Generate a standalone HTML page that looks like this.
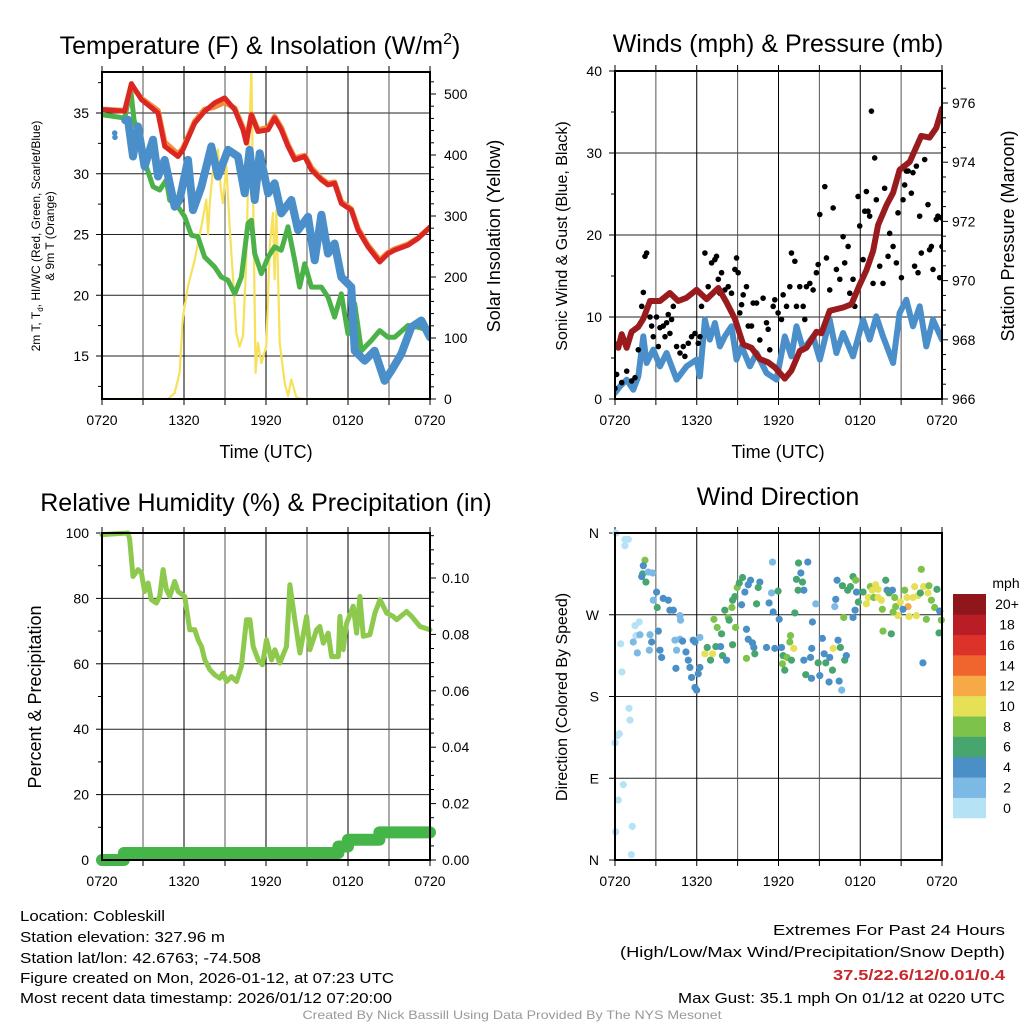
<!DOCTYPE html>
<html><head><meta charset="utf-8"><style>
html,body{margin:0;padding:0;background:#fff;}
svg{display:block;font-family:"Liberation Sans",sans-serif;}
</style></head><body>
<svg id="chart" width="1024" height="1024" viewBox="0 0 1024 1024" xmlns="http://www.w3.org/2000/svg">
<rect x="0" y="0" width="1024" height="1024" fill="#fff"/>
</svg>
<script>
// ---------- Panel 1 data (hours since 0720 UTC) ----------
const redT=[0,1.66,2.15,2.88,4.1,4.59,5.56,5.93,6.78,7.51,8.24,8.98,9.71,10.32,10.56,10.93,11.41,12.15,12.63,13.12,13.61,14.1,14.83,15.32,16.05,16.54,17.02,17.51,18.24,18.73,19.46,20.32,20.93,21.41,22.39,23.12,24];
const redV=[35.28,35.14,37.42,36.1,35,32.25,31.42,31.97,34.17,35.14,35.83,36.24,35.28,33.62,32.52,34.86,33.48,33.62,34.59,33.62,32.25,31.14,31.42,30.32,29.49,29.08,29.21,27.56,27.01,25.36,23.98,22.74,23.43,23.71,24.12,24.67,25.6];
const orangeV=[35.3,35.2,37.3,36.2,35.2,32.6,31.6,32.1,34.3,35.3,35.5,35.9,35.4,33.8,32.7,34.9,33.6,33.8,34.7,33.8,32.4,31.3,31.5,30.5,29.6,29.2,29.3,27.7,27.1,25.5,24.1,22.9,23.5,23.8,24.2,24.7,25.6];
const greenT=[0,1.66,2.1,2.34,2.63,3.24,3.73,4.22,4.71,4.95,5.56,6.05,6.54,7.02,7.51,8.24,8.73,9.22,9.71,10.2,10.68,10.93,11.17,11.66,12.15,12.63,13.12,13.61,14.1,14.46,14.83,15.32,16.05,16.54,17.02,17.51,18.0,18.49,18.98,19.7,20.32,20.93,21.41,22.39,23.12,24];
const greenV=[34.86,34.59,36.93,34.45,33.07,30.59,28.94,28.66,29.49,27.84,27.29,26.46,24.94,24.81,23.15,22.33,21.5,21.23,20.12,21.5,25.91,26.18,23.43,21.78,23.15,23.98,23.71,25.63,22.88,20.67,22.6,20.67,20.67,19.85,18.2,20.12,16.82,19.3,15.44,16.27,17.09,16.54,16.54,17.51,17.37,17.09];
const blueT=[1.7,1.9,2.27,2.63,3.12,3.73,4.1,4.59,5.32,5.68,6.29,6.66,7.27,8.0,8.49,9.22,9.95,10.44,10.8,11.17,11.54,12.15,12.63,13.12,13.85,14.34,15.07,15.56,16.05,16.54,17.02,17.51,18.24,18.49,19.22,19.95,20.68,21.17,21.9,22.63,23.37,24];
const blueV=[34.4,34.45,31.42,33.9,30.59,32.8,29.77,31.14,27.29,27.84,31.14,27.01,28.94,32.25,29.77,31.97,31.42,28.39,31.97,27.84,31.69,28.39,29.21,26.74,27.84,25.36,26.46,22.88,26.63,23.43,24.26,21.5,20.67,15.44,14.61,15.44,12.96,13.79,15.17,17.37,17.92,16.54];
const blueDotT=[0.93,0.95];
const blueDotV=[33.35,33.0];
const solarT=[0,4.83,5.32,5.68,5.93,6.29,6.78,7.27,7.63,7.76,7.88,8.12,8.49,8.68,8.85,9.1,9.34,9.66,9.83,10.07,10.32,10.56,10.73,10.93,11.12,11.24,11.41,11.66,12.02,12.27,12.51,12.63,12.76,13.0,13.37,13.61,13.85,14.22,14.59,24];
const solarV=[0,0,10,43,135,185,228,283,327,270,320,376,409,348,321,381,283,174,108,86,103,228,392,545,228,43,92,59,86,250,305,196,310,92,26,5,32,3,0,0];
// ---------- Panel 2 data ----------
const presT=[0,0.24,0.49,0.86,1.22,1.71,2.08,2.57,3.3,4.03,4.64,5.25,5.99,6.72,7.58,8.19,8.8,9.41,10.02,10.63,11.24,11.73,12.46,12.95,13.56,14.05,14.78,15.15,15.76,16.74,17.35,17.96,18.45,18.94,19.31,19.92,20.41,20.89,21.63,22.48,23.09,23.58,24];
const presV=[967.86,967.73,968.19,967.73,968.27,968.44,968.71,969.31,969.31,969.58,969.31,969.42,969.69,969.37,969.75,969.26,968.71,967.84,967.73,967.35,967.24,967.07,966.69,966.96,967.62,967.73,968.27,968.22,968.98,969.09,969.2,969.86,970.35,971.0,971.88,972.54,972.97,973.74,974.01,974.89,974.83,975.16,975.81];
const windT=[0,0.37,0.86,1.34,1.71,2.08,2.32,2.81,3.3,3.79,4.52,5.25,5.99,6.23,6.6,6.96,7.33,7.7,8.06,8.55,8.92,9.29,9.9,10.39,11.12,11.85,12.46,12.95,13.32,13.81,14.54,15.03,15.76,16.25,16.74,17.47,18.21,18.69,19.18,19.67,20.41,20.89,21.38,21.87,22.36,22.85,23.34,24];
const windV=[0.73,1.54,2.36,1.14,2.76,7.64,4.39,6.02,3.98,5.61,2.36,3.98,4.8,2.76,9.67,7.24,9.27,6.42,7.64,8.86,4.8,6.42,3.98,5.61,3.17,2.36,7.64,5.2,8.86,6.02,7.64,4.8,9.67,5.61,8.05,5.2,9.67,7.24,10.08,7.64,4.39,10.49,12.11,8.86,11.3,6.42,9.67,7.24];
const gustT=[0,0.12,0.49,0.86,1.22,1.47,1.71,1.96,2.08,2.2,2.32,2.57,2.69,2.81,3.05,3.18,3.3,3.54,3.67,3.79,3.91,4.03,4.15,4.28,4.52,4.77,5.01,5.13,5.38,5.62,5.87,6.11,6.23,6.35,6.6,6.84,7.09,7.33,7.45,7.58,7.7,7.82,8.06,8.31,8.55,8.8,8.92,9.04,9.16,9.29,9.41,9.65,9.78,10.02,10.14,10.39,10.63,10.87,11.12,11.24,11.36,11.61,11.73,11.97,12.22,12.34,12.59,12.83,12.95,13.2,13.32,13.56,13.81,13.93,14.05,14.3,14.54,14.78,14.91,15.03,15.4,15.52,15.76,16.01,16.25,16.5,16.74,16.86,17.11,17.23,17.47,17.6,17.84,17.96,18.21,18.33,18.45,18.57,18.69,18.82,18.94,19.06,19.18,19.43,19.67,19.79,20.04,20.16,20.41,20.65,20.77,21.02,21.14,21.26,21.38,21.51,21.75,21.87,21.99,22.12,22.24,22.36,22.48,22.73,22.97,23.09,23.22,23.34,23.58,23.7,23.83,24,23.95];
const gustV=[1.3,3,2,3.4,2.2,2.6,6,11.3,13,17.4,17.8,10,8.9,7.6,10,6.4,8.7,8.9,7.6,9.3,10.3,8,9.7,11.3,6.4,5.6,6.4,5.2,6.8,7.6,8,6.8,7.6,11.3,17.8,13.7,16.6,17,17.4,14.6,12.9,15.4,13.3,13.7,12.9,15.8,17.2,15.4,10.5,11.5,12.7,13.7,8.9,8.9,11.7,11.7,7.2,12.3,9.3,8.5,6,11.3,12.1,10.5,9.7,12.7,11.3,13.7,17.8,16.8,11.3,13.7,11.3,9.7,13.7,14.1,13.3,15.4,16.4,22.5,25.9,17.2,13.3,23.3,15.8,14.6,19.8,16.6,18.6,12.9,14.6,11.3,24.7,21.1,17,22.9,25.3,22.9,22.3,35.1,14.1,29.4,24.3,16.2,14.1,25.7,17.4,20.2,18.6,16.6,22.7,14.8,24.3,26.1,27.8,27.8,25.1,27.6,16.2,28.4,15.4,22.3,17.8,29.2,23.7,18.2,18.6,15.8,21.9,22.3,14.8,18.6,22.1];
// ---------- Panel 3 data ----------
const rhT=[0,1.9,2.03,2.27,2.64,2.88,3.12,3.37,3.61,3.98,4.22,4.47,4.71,4.96,5.32,5.57,6.05,6.42,6.79,7.03,7.28,7.52,7.89,8.25,8.62,8.86,9.11,9.47,9.84,10.2,10.57,10.82,11.06,11.43,11.74,12.04,12.4,12.65,13.01,13.5,13.75,14.11,14.48,14.97,15.21,15.7,15.94,16.19,16.55,16.8,17.29,17.41,17.65,17.9,18.38,18.63,18.87,19.12,19.6,19.97,20.34,20.83,21.31,21.56,22.29,22.66,23.27,24];
const rhV=[99.5,100,98,86.7,88.8,87.8,82.1,84.7,79.6,78.6,80.6,88.8,82.7,80.6,85.2,82.1,80.6,70.4,70.4,67.3,65.3,61.2,58.2,56.6,55.6,57.1,54.6,56.1,54.6,59.2,73.5,73.5,65.3,61.2,59.7,67.3,61.2,64.3,60.2,65.3,84.2,73.5,63.3,74.5,64.3,70.4,71.4,66.3,69.4,62.2,62.2,74.5,64.3,72.4,77.6,69.4,80.6,68.4,68.9,75.5,79.6,75.5,74.5,73.5,76.0,74.5,71.4,70.4];
const precT=[0,1.6,1.6,17.3,17.3,18.0,18.0,20.3,20.3,24];
const precV=[0,0,0.0025,0.0025,0.0048,0.0048,0.0072,0.0072,0.0098,0.0098];
// ---------- Panel 4 data ----------
const dirT=[0.07,0.73,0.98,0.73,1.47,1.78,1.54,1.83,0.42,1.34,1.64,2.57,2.52,0.51,1.03,1.1,0.32,0.17,0,0.61,0.24,1.27,0.05,1.2,
2.2,2.08,2.03,2.27,1.96,2.44,2.76,3.05,2.81,3.1,3.54,3.91,4.03,4.28,4.77,4.81,3.18,2.69,3.3,3.42,4.4,4.77,4.52,4.96,5.21,5.38,5.5,5.62,5.87,5.99,6.11,6.23,5.87,6.23,4.47,5.74,
6.6,6.77,7.16,7.4,7.01,7.89,8.19,7.75,7.26,7.5,7.82,8.06,8.31,8.38,8.58,8.63,8.85,8.63,8.8,8.97,9.12,9.36,9.53,9.78,9.95,9.29,9.65,9.78,10.09,10.19,10.26,9.65,10.39,10.63,10.51,11.49,11.31,11.61,12.05,11.97,11.56,11.12,11.73,12.22,12.34,12.29,12.46,12.63,12.95,12.83,12.88,13.12,13.2,13.32,13.47,13.64,13.76,13.86,13.44,14.15,13.86,14.35,14.0,14.42,14.49,14.44,14.74,14.91,15.03,15.22,15.35,15.47,15.76,15.71,15.96,16.01,16.13,16.2,16.3,16.37,16.45,16.54,16.69,16.86,16.98,16.64,16.79,17.08,17.28,17.47,17.67,17.47,17.62,17.72,17.86,
18.21,18.45,18.6,18.74,18.89,19.13,19.31,18.99,19.31,19.55,19.87,19.97,20.11,20.36,20.53,20.6,20.77,20.94,21.26,21.43,21.51,21.58,21.87,21.99,22.12,22.24,22.41,22.48,22.65,22.97,23.04,23.22,23.46,23.63,23.83,23.95,23.78,22.6,22.85,19.67,20.28,21.14,20.41,19.62];
const dirDeg=[360,353,353,346,258,262,247,248,238,240,228,248,231,207,167,154,139,137,129,83,66,37,31,6,
330,324,315,306,312,317,316,295,286,278,288,286,275,275,269,264,252,240,231,223,242,243,231,241,229,220,212,201,190,187,205,212,240,245,211,242,
227,234,227,235,220,225,220,235,265,256,249,275,267,264,278,237,256,286,290,300,305,311,295,303,308,281,254,243,239,234,227,222,282,306,300,294,283,273,265,296,328,234,233,234,225,216,209,223,220,240,247,233,272,309,327,316,306,297,297,328,220,223,204,200,262,233,282,217,203,244,227,217,223,196,209,233,279,287,308,242,197,234,302,220,225,187,267,297,301,312,308,267,275,295,284,
295,282,289,301,297,303,298,289,289,286,308,297,294,297,289,279,269,284,297,289,279,268,289,301,269,291,294,320,301,294,302,286,278,298,274,264,250,217,265,252,249,276,273,276];
const dirSpd=[1,1,1,1,1,1,1,3,1,3,3,3,3,1,1,1,1,1,1,1,1,1,1,1,
9,5,7,7,5,3,3,5,3,7,5,5,5,5,3,3,5,5,5,5,3,3,3,5,5,5,5,5,5,5,5,5,5,3,5,5,
11,7,11,7,7,7,5,5,9,9,7,7,9,7,9,7,9,7,7,9,7,7,5,5,5,5,5,5,5,5,7,9,7,5,7,3,5,5,5,7,3,5,5,5,7,9,7,9,7,9,9,11,7,7,7,5,7,5,7,5,5,5,7,5,5,5,3,7,5,5,5,7,5,5,7,11,3,5,5,5,5,7,7,7,5,3,9,7,7,7,9,5,5,5,7,
7,11,11,9,11,11,11,9,11,11,7,5,7,5,9,9,11,11,9,11,13,11,11,11,11,11,7,9,11,11,9,9,9,7,5,9,7,5,9,9,7,5,9,9];
const cbLabels=["0","2","4","6","8","10","12","14","16","18","20+"];
const cbColors=["#b6e2f6","#7cb9e4","#4a8fc6","#47a56e","#7dc24b","#e6e057","#f7a945","#ef652d","#dc3229","#b91d26","#8f171b"];
const timeLabels=["0720","1320","1920","0120","0720"];

const NS="http://www.w3.org/2000/svg";
const svg=document.getElementById('chart');
function mk(tag,attrs,parent){const e=document.createElementNS(NS,tag);for(const k in attrs)e.setAttribute(k,attrs[k]);(parent||svg).appendChild(e);return e;}
function txt(s,x,y,size,anchor,parent,extra){const e=mk('text',Object.assign({x:x,y:y,'font-size':size,'text-anchor':anchor||'middle',fill:'#000'},extra||{}),parent);e.textContent=s;return e;}
function lin(d0,d1,p0,p1){return v=>p0+(v-d0)*(p1-p0)/(d1-d0);}

function frame(g,P){
  for(let h=0;h<=24;h+=3){const x=P.sx(h);
    const l=mk('line',{x1:x,x2:x,y1:P.y0,y2:P.y1,stroke:(h%6===0)?'#000':'#555','stroke-width':1},g);
    
    const tb=mk('line',{x1:x,x2:x,y1:P.y1,y2:P.y1+6,stroke:'#000','stroke-width':1},g);
    
    const tt=mk('line',{x1:x,x2:x,y1:P.y0-6,y2:P.y0,stroke:'#000','stroke-width':1},g);
    
  }
  timeLabels.forEach((s,i)=>{const t=txt(s,P.sx(i*6),P.y1+26,14,'middle',g);
    });
}
function border(g,P){const r=mk('rect',{x:P.x0,y:P.y0,width:P.x1-P.x0,height:P.y1-P.y0,fill:'none',stroke:'#000','stroke-width':2},g);
  }
function hgrid(g,P,y,name){const l=mk('line',{x1:P.x0,x2:P.x1,y1:y,y2:y,stroke:'#222','stroke-width':1},g);
  }
function ytick(g,x,y,len,name){const l=mk('line',{x1:x,x2:x+len,y1:y,y2:y,stroke:'#000','stroke-width':1},g);
  }
function path(g,xs,ys,sx,sy,attrs,name){let d='';for(let i=0;i<xs.length;i++){d+=(i?'L':'M')+sx(xs[i]).toFixed(1)+','+sy(ys[i]).toFixed(1);}
  const p=mk('path',Object.assign({d:d,fill:'none','stroke-linejoin':'round','stroke-linecap':'round'},attrs),g);
  return p;}

// ===== Panel 1 =====
{const g=mk('g',{});
 const P={x0:102,x1:430,y0:72,y1:399};P.sx=lin(0,24,P.x0,P.x1);
 const sy=lin(15,35,356,113);const sS=lin(0,500,399,94);
 [15,20,25,30,35].forEach(v=>{hgrid(g,P,sy(v));ytick(g,P.x0-6,sy(v),6,'y-tick-left');
   const t=txt(String(v),P.x0-13,sy(v)+5,14,'end',g);});
 for(let v=12.5;v<38;v+=5){ytick(g,P.x0-4,sy(v),4,'y-minor-tick-left');}
 for(let v=0;v<=500;v+=100){ytick(g,P.x1,sS(v),6,'y-tick-right');
   const t=txt(String(v),P.x1+14,sS(v)+5,14,'start',g);}
 for(let v=20;v<536;v+=20){if(v%100)ytick(g,P.x1,sS(v),4,'y-minor-tick-right');}
 frame(g,P);
 const clip=mk('clipPath',{id:'c1'},g);mk('rect',{x:P.x0,y:P.y0,width:P.x1-P.x0,height:P.y1-P.y0},clip);
 const d=mk('g',{'clip-path':'url(#c1)'},g);
 path(d,solarT,solarV,P.sx,sS,{stroke:'#f7e05a','stroke-width':2.2},'solar-insolation-line');
 path(d,greenT,greenV,P.sx,sy,{stroke:'#4cb148','stroke-width':5},'dewpoint-line');
 path(d,blueT,blueV,P.sx,sy,{stroke:'#4b8fca','stroke-width':8},'wind-chill-line');
 blueDotT.forEach((t,i)=>{const c=mk('circle',{cx:P.sx(t),cy:sy(blueDotV[i]),r:2.8,fill:'#4b8fca'},d);});
 path(d,redT,orangeV,P.sx,sy,{stroke:'#f58b3a','stroke-width':5.5},'9m-temperature-line');
 path(d,redT,redV,P.sx,sy,{stroke:'#db2723','stroke-width':5},'2m-temperature-line');
 border(g,P);
 const t1=txt('Temperature (F) & Insolation (W/m',260,54,25,'middle',g);
 const sup=mk('tspan',{dy:-10,'font-size':16},t1);sup.textContent='2';const cl=mk('tspan',{dy:10},t1);cl.textContent=')';
 const xl=txt('Time (UTC)',266,458,18,'middle',g);
 const yl=mk('text',{transform:'translate(40,236) rotate(-90)','font-size':12,'text-anchor':'middle',fill:'#000'},g);
 const a=mk('tspan',{x:0,dy:0},yl);a.textContent='2m T, T';const s=mk('tspan',{dy:3,'font-size':8},yl);s.textContent='d';const b=mk('tspan',{dy:-3},yl);b.textContent=', HI/WC (Red, Green, Scarlet/Blue)';
 const c2=mk('tspan',{x:0,dy:14},yl);c2.textContent='& 9m T (Orange)';
 const yr=txt('Solar Insolation (Yellow)',0,0,18,'middle',g,{transform:'translate(500,236) rotate(-90)'});
}
// ===== Panel 2 =====
{const g=mk('g',{});
 const P={x0:615,x1:942,y0:71,y1:399};P.sx=lin(0,24,P.x0,P.x1);
 const sy=lin(0,40,399,71);const sp=lin(966,976,399,103);
 [0,10,20,30,40].forEach(v=>{if(v>0&&v<40)hgrid(g,P,sy(v));ytick(g,P.x0-6,sy(v),6,'y-tick-left');
   const t=txt(String(v),P.x0-13,sy(v)+5,14,'end',g);});
 for(let v=5;v<40;v+=10)ytick(g,P.x0-4,sy(v),4,'y-minor-tick-left');
 for(let v=966;v<=976;v+=2){ytick(g,P.x1,sp(v),6,'y-tick-right');
   const t=txt(String(v),P.x1+10,sp(v)+5,14,'start',g);}
 for(let v=966.5;v<977;v+=0.5){if(Math.abs(v-Math.round(v/2)*2)>0.01)ytick(g,P.x1,sp(v),4,'y-minor-tick-right');}
 frame(g,P);
 const clip=mk('clipPath',{id:'c2'},g);mk('rect',{x:P.x0,y:P.y0,width:P.x1-P.x0,height:P.y1-P.y0},clip);
 const d=mk('g',{'clip-path':'url(#c2)'},g);
 path(d,windT,windV,P.sx,sy,{stroke:'#4b8fca','stroke-width':6},'sonic-wind-line');
 gustT.forEach((t,i)=>{const c=mk('circle',{cx:P.sx(t),cy:sy(gustV[i]),r:2.8,fill:'#000'},d);
   });
 path(d,presT,presV,P.sx,sp,{stroke:'#9a1b1e','stroke-width':6},'station-pressure-line');
 border(g,P);
 const t1=txt('Winds (mph) & Pressure (mb)',778,52,25,'middle',g);
 const xl=txt('Time (UTC)',778,458,18,'middle',g);
 const yl=txt('Sonic Wind & Gust (Blue, Black)',0,0,16,'middle',g,{transform:'translate(567,236) rotate(-90)'});
 const yr=txt('Station Pressure (Maroon)',0,0,18,'middle',g,{transform:'translate(1014,236) rotate(-90)'});
}
// ===== Panel 3 =====
{const g=mk('g',{});
 const P={x0:102,x1:430,y0:533,y1:860};P.sx=lin(0,24,P.x0,P.x1);
 const sy=lin(0,100,860,533);const sq=lin(0,0.1,860,578);
 [0,20,40,60,80,100].forEach(v=>{if(v>0&&v<100)hgrid(g,P,sy(v));ytick(g,P.x0-6,sy(v),6,'y-tick-left');
   const t=txt(String(v),P.x0-13,sy(v)+5,14,'end',g);});
 for(let v=10;v<100;v+=20)ytick(g,P.x0-4,sy(v),4,'y-minor-tick-left');
 for(let i=0;i<=5;i++){const v=i*0.02;ytick(g,P.x1,sq(v),6,'y-tick-right');
   const t=txt(v.toFixed(2),P.x1+12,sq(v)+5,14,'start',g);}
 for(let i=1;i<=23;i++){if(i%4)ytick(g,P.x1,sq(i*0.005),4,'y-minor-tick-right');}
 frame(g,P);
 const d=mk('g',{});g.appendChild(d);
 path(d,rhT,rhV,P.sx,sy,{stroke:'#8dc94d','stroke-width':5},'relative-humidity-line');
 path(d,precT,precV,P.sx,sq,{stroke:'#46b549','stroke-width':12},'precipitation-line');
 border(g,P);
 const t1=txt('Relative Humidity (%) & Precipitation (in)',266,511,25,'middle',g);
 const yl=txt('Percent & Precipitation',0,0,18,'middle',g,{transform:'translate(41,697) rotate(-90)'});
}
// ===== Panel 4 =====
{const g=mk('g',{});
 const P={x0:615,x1:942,y0:533,y1:860};P.sx=lin(0,24,P.x0,P.x1);
 const sy=lin(0,360,860,533);
 const dirLabels=['N','E','S','W','N'];
 dirLabels.forEach((s,i)=>{const y=sy(i*90);if(i>0&&i<4)hgrid(g,P,y);ytick(g,P.x0-6,y,6,'y-tick-left');
   const t=txt(s,P.x0-16,y+5,14,'end',g);});
 frame(g,P);
 const d=mk('g',{});g.appendChild(d);
 dirT.forEach((t,i)=>{const bin=Math.min(10,Math.floor(dirSpd[i]/2));
   const c=mk('circle',{cx:P.sx(t),cy:sy(dirDeg[i]),r:3.6,fill:cbColors[bin]},d);
   });
 border(g,P);
 const t1=txt('Wind Direction',778,505,25,'middle',g);
 const yl=txt('Direction (Colored By Speed)',0,0,16,'middle',g,{transform:'translate(567,697) rotate(-90)'});
 const cb=mk('g',{},g);
 const h=(818-594)/cbColors.length;
 cbColors.forEach((col,i)=>{const y=818-(i+1)*h;
   const r=mk('rect',{x:953,y:y,width:33,height:h+0.3,fill:col},cb);
   const t=txt(cbLabels[i],1007,y+h/2+5,14,'middle',cb);});
 const u=txt('mph',1006,588,14,'middle',cb);
}
// ===== Footer =====
{const g=mk('g',{});
 const L=[['Location: Cobleskill',921,145,'location-text'],['Station elevation: 327.96 m',942,205,'elevation-text'],['Station lat/lon: 42.6763; -74.508',963,241,'latlon-text'],['Figure created on Mon, 2026-01-12, at 07:23 UTC',983,374,'created-text'],['Most recent data timestamp: 2026/01/12 07:20:00',1003,372,'timestamp-text']];
 L.forEach(a=>{const t=txt(a[0],20,a[1],15,'start',g,{textLength:a[2],lengthAdjust:'spacingAndGlyphs'});});
 const R=[['Extremes For Past 24 Hours',935,232,'extremes-title','#000','normal'],['(High/Low/Max Wind/Precipitation/Snow Depth)',957,385,'extremes-subtitle','#000','normal'],['37.5/22.6/12/0.01/0.4',980,172,'extremes-values','#c8262b','bold'],['Max Gust: 35.1 mph On 01/12 at 0220 UTC',1003,327,'max-gust-text','#000','normal']];
 R.forEach(a=>{const t=txt(a[0],1005,a[1],15,'end',g,{textLength:a[2],lengthAdjust:'spacingAndGlyphs',fill:a[4],'font-weight':a[5]});});
 const c=txt('Created By Nick Bassill Using Data Provided By The NYS Mesonet',512,1019,12,'middle',g,{fill:'#999',textLength:419,lengthAdjust:'spacingAndGlyphs'});
 
}
</script>
</body></html>
